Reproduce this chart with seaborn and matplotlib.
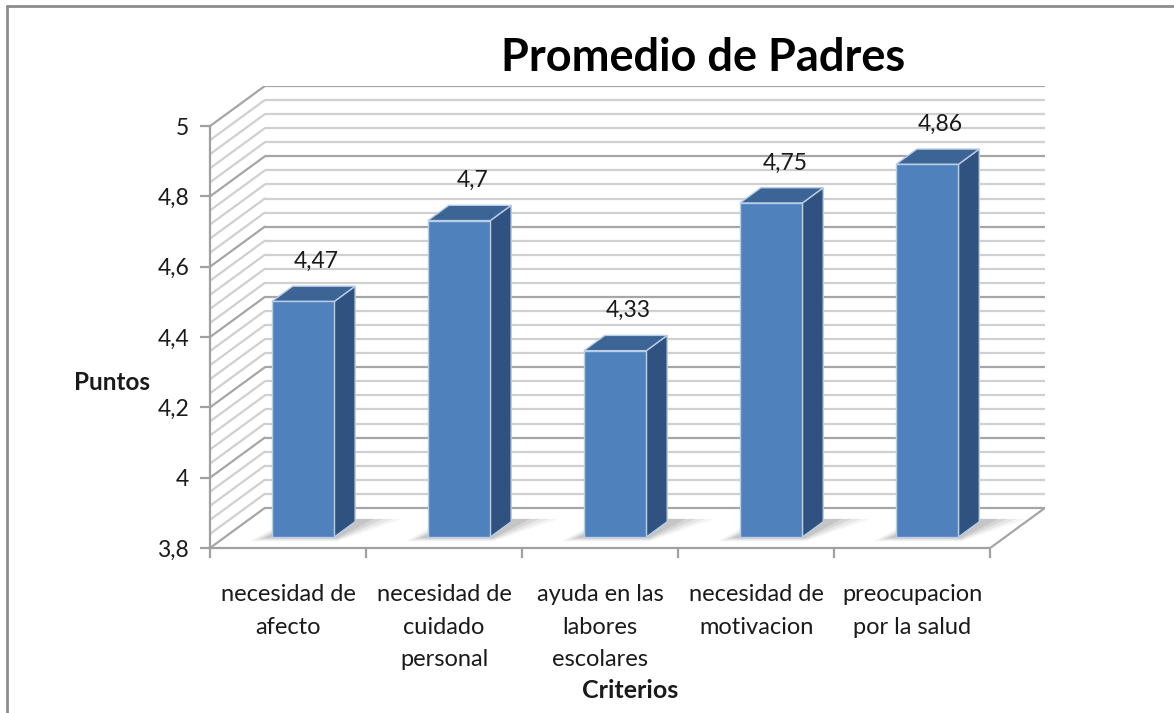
import matplotlib
matplotlib.use("Agg")
import matplotlib.pyplot as plt
from matplotlib.patches import Polygon
from matplotlib.lines import Line2D
import seaborn as sns
import pandas as pd
import numpy as np

# ---- data ----
categories = ["necesidad de\nafecto", "necesidad de\ncuidado\npersonal",
              "ayuda en las\nlabores\nescolares", "necesidad de\nmotivacion",
              "preocupacion\npor la salud"]
values = [4.47, 4.70, 4.33, 4.75, 4.86]
y_ticks = [3.8, 4.0, 4.2, 4.4, 4.6, 4.8, 5.0]
y_tick_labels = ["3,8", "4", "4,2", "4,4", "4,6", "4,8", "5"]
title = "Promedio de Padres"
y_label = "Puntos"
x_label = "Criterios"

sns.set_theme(style="white")
plt.rcParams["font.family"] = ["Lato", "DejaVu Sans"]

W, H = 1174, 713
fig = plt.figure(figsize=(W / 100, H / 100), dpi=100)
fig.patch.set_facecolor("white")

# axes placement (pixels)
ax_left, ax_right, ax_top, ax_bottom = 210, 1045, 86, 548
ax = fig.add_axes([ax_left / W, (H - ax_bottom) / H,
                   (ax_right - ax_left) / W, (ax_bottom - ax_top) / H])
ax.set_facecolor("none")

ymin, ymax = 3.8, 5.0
n = len(values)
# depth vector (full depth of the 3D box) in data units
Dx = 55 / 156.6
Dy = 40 / 350.8
ax.set_xlim(-0.5, n - 0.5 + Dx)
ax.set_ylim(ymin, ymax + Dy)

df = pd.DataFrame({"cat": categories, "val": values})
bar_w = 0.40
sns.barplot(data=df, x="cat", y="val", ax=ax, color="#4F81BD",
            width=bar_w, saturation=1, edgecolor="#B9CDE5", linewidth=1.0,
            zorder=4)

ax.set_xlim(-0.5, n - 0.5 + Dx)
ax.set_ylim(ymin, ymax + Dy)

grid_minor = "#D0D0D0"
grid_major = "#A6A6A6"

# back wall gridlines + side wall diagonals
vals = np.round(np.arange(ymin, ymax + 1e-9, 0.04), 4)
for v in vals:
    major = abs(round(v / 0.2) * 0.2 - v) < 1e-6
    c = grid_major if major else grid_minor
    lw = 1.6
    ax.add_line(Line2D([-0.5 + Dx, n - 0.5 + Dx], [v + Dy, v + Dy],
                       color=c, lw=lw, zorder=1, solid_capstyle="butt"))
    ax.add_line(Line2D([-0.5, -0.5 + Dx], [v, v + Dy],
                       color=c, lw=lw, zorder=1))

# floor right edge
ax.add_line(Line2D([n - 0.5, n - 0.5 + Dx], [ymin, ymin + Dy],
                   color="#A6A6A6", lw=1.6, zorder=1))

# 3D bars: move the seaborn bars to mid depth and add side / top faces
f_front, f_back = 0.275, 0.655
fdx, fdy = f_front * Dx, f_front * Dy
ddx, ddy = (f_back - f_front) * Dx, (f_back - f_front) * Dy
side_c = "#2F5280"
top_c = "#3C6596"
for p, v in zip(ax.patches, values):
    xl = p.get_x() + fdx
    w = p.get_width()
    xr = xl + w
    yb = ymin + fdy
    yt = v + fdy
    # soft shadow on the floor
    for k, a in enumerate([0.07, 0.10, 0.13, 0.16]):
        s = k * 0.03
        shadow = Polygon([(xl - 0.14 + s, yb - 0.012 + s * 0.1),
                          (xr + 0.02, yb - 0.012 + s * 0.1),
                          (xr + ddx + 0.30 - 2 * s, yb + ddy + 0.008),
                          (xl + ddx - 0.02 + s, yb + ddy + 0.008)],
                         closed=True, facecolor="#6F6F6F", edgecolor="none",
                         alpha=a, zorder=2)
        ax.add_patch(shadow)
    p.set_x(xl)
    p.set_y(yb)
    p.set_height(v - ymin)
    side = Polygon([(xr, yb), (xr, yt), (xr + ddx, yt + ddy), (xr + ddx, yb + ddy)],
                   closed=True, facecolor=side_c, edgecolor="#B9CDE5",
                   linewidth=1.0, zorder=3.5)
    top = Polygon([(xl, yt), (xr, yt), (xr + ddx, yt + ddy), (xl + ddx, yt + ddy)],
                  closed=True, facecolor=top_c, edgecolor="#B9CDE5",
                  linewidth=1.0, zorder=3.5)
    ax.add_patch(side)
    ax.add_patch(top)
    lab = f"{v:g}".replace(".", ",")
    ax.text(xl + w / 2 + ddx / 2 + 0.02, v + f_back * Dy + 0.07, lab,
            ha="center", va="center", fontsize=16.5, color="#1a1a1a", zorder=6)

# spines / axes
for s in ["top", "right"]:
    ax.spines[s].set_visible(False)
for s in ["left", "bottom"]:
    ax.spines[s].set_color("#A0A0A0")
    ax.spines[s].set_linewidth(1.6)
    ax.spines[s].set_zorder(5)
ax.spines["left"].set_bounds(ymin, ymax)
ax.spines["bottom"].set_bounds(-0.5, n - 0.5)

ax.set_yticks(y_ticks)
ax.set_yticklabels(y_tick_labels)
ax.set_xticks(np.arange(-0.5, n, 1.0))
ax.set_xticklabels([])
ax.set_xticks(np.arange(n), minor=True)
ax.set_xticklabels(categories, minor=True)
ax.tick_params(axis="y", which="major", direction="out", length=7, width=1.6,
               color="#A0A0A0", left=True, pad=8, labelsize=16.5, labelcolor="#1a1a1a")
ax.tick_params(axis="x", which="major", direction="out", length=7, width=1.6,
               color="#A0A0A0", bottom=True)
ax.tick_params(axis="x", which="minor", length=0, pad=26, labelsize=17,
               labelcolor="#1a1a1a")
for t in ax.get_xticklabels(minor=True):
    t.set_linespacing(1.68)
    t.set_va("top")
ax.set_xlabel("")
ax.set_ylabel("")

fig.text(112 / W, 1 - 382 / H, y_label, ha="center", va="center",
         fontsize=17.5, fontweight="bold", color="#1a1a1a")
fig.text(630 / W, 1 - 690 / H, x_label, ha="center", va="center",
         fontsize=18, fontweight="bold", color="#1a1a1a")
fig.text(703 / W, 1 - 58 / H, title, ha="center", va="center",
         fontsize=32.5, fontweight="bold", color="black")

# chart border (left and top edges visible)
fig.add_artist(Line2D([7 / W, 7 / W], [0, 1 - 6 / H], transform=fig.transFigure,
                      color="#8C8C8C", lw=2))
fig.add_artist(Line2D([7 / W, 1], [1 - 6 / H, 1 - 6 / H], transform=fig.transFigure,
                      color="#8C8C8C", lw=2))

fig.savefig("out.png", dpi=100, facecolor="white")
